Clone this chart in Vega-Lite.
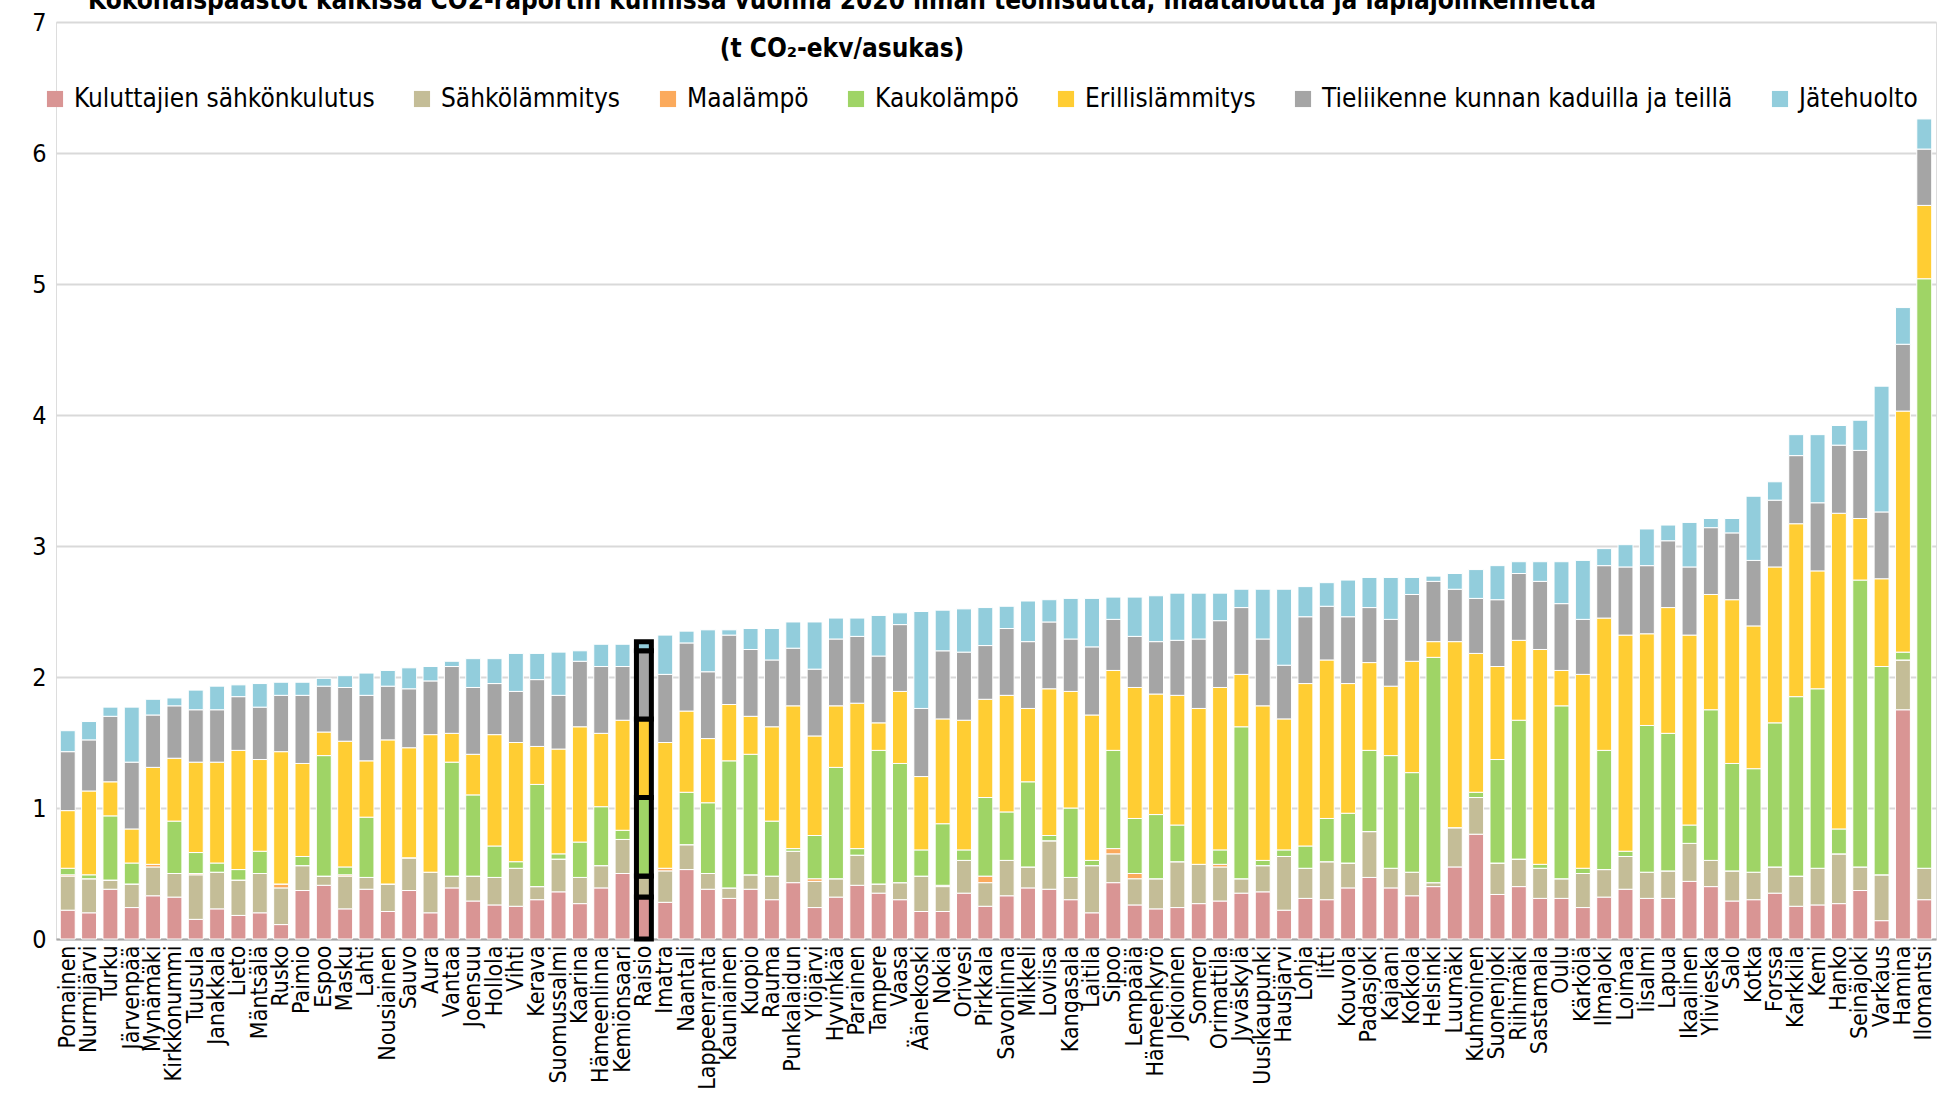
{
  "$schema": "https://vega.github.io/schema/vega-lite/v6.json",
  "width": 1880,
  "height": 917,
  "autosize": "none",
  "padding": {"left": 56, "top": 22, "right": 7, "bottom": 181},
  "background": "white",
  "title": {
    "text": "Kokonaispäästöt kaikissa CO2-raportin kunnissa vuonna 2020 ilman teollisuutta, maataloutta ja läpiajoliikennettä",
    "subtitle": "(t CO₂-ekv/asukas)",
    "font": "DejaVu Sans Condensed",
    "subtitleFont": "DejaVu Sans Condensed",
    "fontSize": 26,
    "subtitleFontSize": 26,
    "fontWeight": "bold",
    "subtitleFontWeight": "bold",
    "color": "black",
    "subtitleColor": "black",
    "anchor": "middle",
    "dx": -154,
    "offset": -52,
    "subtitlePadding": 22
  },
  "data": {"values": [
    {"kunta": "Pornainen", "K": 0.22, "S": 0.26, "M": 0.01, "Ka": 0.05, "E": 0.44, "T": 0.45, "J": 0.16},
    {"kunta": "Nurmijärvi", "K": 0.20, "S": 0.26, "M": 0, "Ka": 0.03, "E": 0.64, "T": 0.39, "J": 0.14},
    {"kunta": "Turku", "K": 0.38, "S": 0.07, "M": 0, "Ka": 0.49, "E": 0.26, "T": 0.50, "J": 0.07},
    {"kunta": "Järvenpää", "K": 0.24, "S": 0.18, "M": 0, "Ka": 0.16, "E": 0.26, "T": 0.51, "J": 0.42},
    {"kunta": "Mynämäki", "K": 0.33, "S": 0.22, "M": 0.02, "Ka": 0, "E": 0.74, "T": 0.40, "J": 0.12},
    {"kunta": "Kirkkonummi", "K": 0.32, "S": 0.18, "M": 0, "Ka": 0.40, "E": 0.48, "T": 0.40, "J": 0.06},
    {"kunta": "Tuusula", "K": 0.15, "S": 0.34, "M": 0.01, "Ka": 0.16, "E": 0.69, "T": 0.40, "J": 0.15},
    {"kunta": "Janakkala", "K": 0.23, "S": 0.28, "M": 0, "Ka": 0.07, "E": 0.77, "T": 0.40, "J": 0.18},
    {"kunta": "Lieto", "K": 0.18, "S": 0.27, "M": 0, "Ka": 0.08, "E": 0.91, "T": 0.41, "J": 0.09},
    {"kunta": "Mäntsälä", "K": 0.20, "S": 0.30, "M": 0, "Ka": 0.17, "E": 0.70, "T": 0.40, "J": 0.18},
    {"kunta": "Rusko", "K": 0.11, "S": 0.28, "M": 0.03, "Ka": 0, "E": 1.01, "T": 0.43, "J": 0.10},
    {"kunta": "Paimio", "K": 0.37, "S": 0.19, "M": 0, "Ka": 0.07, "E": 0.71, "T": 0.52, "J": 0.10},
    {"kunta": "Espoo", "K": 0.41, "S": 0.07, "M": 0, "Ka": 0.92, "E": 0.18, "T": 0.35, "J": 0.06},
    {"kunta": "Masku", "K": 0.23, "S": 0.25, "M": 0.01, "Ka": 0.06, "E": 0.96, "T": 0.41, "J": 0.09},
    {"kunta": "Lahti", "K": 0.38, "S": 0.09, "M": 0, "Ka": 0.46, "E": 0.43, "T": 0.50, "J": 0.17},
    {"kunta": "Nousiainen", "K": 0.21, "S": 0.21, "M": 0, "Ka": 0, "E": 1.10, "T": 0.41, "J": 0.12},
    {"kunta": "Sauvo", "K": 0.37, "S": 0.25, "M": 0, "Ka": 0, "E": 0.84, "T": 0.45, "J": 0.16},
    {"kunta": "Aura", "K": 0.20, "S": 0.31, "M": 0, "Ka": 0, "E": 1.05, "T": 0.41, "J": 0.11},
    {"kunta": "Vantaa", "K": 0.39, "S": 0.09, "M": 0, "Ka": 0.87, "E": 0.22, "T": 0.51, "J": 0.04},
    {"kunta": "Joensuu", "K": 0.29, "S": 0.19, "M": 0, "Ka": 0.62, "E": 0.31, "T": 0.51, "J": 0.22},
    {"kunta": "Hollola", "K": 0.26, "S": 0.21, "M": 0, "Ka": 0.24, "E": 0.85, "T": 0.39, "J": 0.19},
    {"kunta": "Vihti", "K": 0.25, "S": 0.29, "M": 0, "Ka": 0.05, "E": 0.91, "T": 0.39, "J": 0.29},
    {"kunta": "Kerava", "K": 0.30, "S": 0.10, "M": 0, "Ka": 0.78, "E": 0.29, "T": 0.51, "J": 0.20},
    {"kunta": "Suomussalmi", "K": 0.36, "S": 0.25, "M": 0, "Ka": 0.04, "E": 0.80, "T": 0.41, "J": 0.33},
    {"kunta": "Kaarina", "K": 0.27, "S": 0.20, "M": 0, "Ka": 0.27, "E": 0.88, "T": 0.50, "J": 0.08},
    {"kunta": "Hämeenlinna", "K": 0.39, "S": 0.17, "M": 0, "Ka": 0.45, "E": 0.56, "T": 0.51, "J": 0.17},
    {"kunta": "Kemiönsaari", "K": 0.50, "S": 0.26, "M": 0, "Ka": 0.07, "E": 0.84, "T": 0.41, "J": 0.17},
    {"kunta": "Raisio", "K": 0.32, "S": 0.16, "M": 0, "Ka": 0.60, "E": 0.60, "T": 0.52, "J": 0.07},
    {"kunta": "Imatra", "K": 0.28, "S": 0.24, "M": 0.02, "Ka": 0, "E": 0.96, "T": 0.52, "J": 0.30},
    {"kunta": "Naantali", "K": 0.53, "S": 0.19, "M": 0, "Ka": 0.40, "E": 0.62, "T": 0.52, "J": 0.09},
    {"kunta": "Lappeenranta", "K": 0.38, "S": 0.12, "M": 0, "Ka": 0.54, "E": 0.49, "T": 0.51, "J": 0.32},
    {"kunta": "Kauniainen", "K": 0.31, "S": 0.08, "M": 0, "Ka": 0.97, "E": 0.43, "T": 0.53, "J": 0.04},
    {"kunta": "Kuopio", "K": 0.38, "S": 0.11, "M": 0, "Ka": 0.92, "E": 0.29, "T": 0.51, "J": 0.16},
    {"kunta": "Rauma", "K": 0.30, "S": 0.18, "M": 0, "Ka": 0.42, "E": 0.72, "T": 0.51, "J": 0.24},
    {"kunta": "Punkalaidun", "K": 0.43, "S": 0.24, "M": 0, "Ka": 0.02, "E": 1.09, "T": 0.44, "J": 0.20},
    {"kunta": "Ylöjärvi", "K": 0.24, "S": 0.20, "M": 0.02, "Ka": 0.33, "E": 0.76, "T": 0.51, "J": 0.36},
    {"kunta": "Hyvinkää", "K": 0.32, "S": 0.14, "M": 0, "Ka": 0.85, "E": 0.47, "T": 0.51, "J": 0.16},
    {"kunta": "Parainen", "K": 0.41, "S": 0.23, "M": 0, "Ka": 0.05, "E": 1.11, "T": 0.51, "J": 0.14},
    {"kunta": "Tampere", "K": 0.35, "S": 0.07, "M": 0, "Ka": 1.02, "E": 0.21, "T": 0.51, "J": 0.31},
    {"kunta": "Vaasa", "K": 0.30, "S": 0.13, "M": 0, "Ka": 0.91, "E": 0.55, "T": 0.51, "J": 0.09},
    {"kunta": "Äänekoski", "K": 0.21, "S": 0.27, "M": 0, "Ka": 0.20, "E": 0.56, "T": 0.52, "J": 0.74},
    {"kunta": "Nokia", "K": 0.21, "S": 0.19, "M": 0.01, "Ka": 0.47, "E": 0.80, "T": 0.52, "J": 0.31},
    {"kunta": "Orivesi", "K": 0.35, "S": 0.25, "M": 0, "Ka": 0.08, "E": 0.99, "T": 0.52, "J": 0.33},
    {"kunta": "Pirkkala", "K": 0.25, "S": 0.18, "M": 0.05, "Ka": 0.60, "E": 0.75, "T": 0.41, "J": 0.29},
    {"kunta": "Savonlinna", "K": 0.33, "S": 0.27, "M": 0, "Ka": 0.37, "E": 0.89, "T": 0.51, "J": 0.17},
    {"kunta": "Mikkeli", "K": 0.39, "S": 0.16, "M": 0, "Ka": 0.65, "E": 0.56, "T": 0.51, "J": 0.31},
    {"kunta": "Loviisa", "K": 0.38, "S": 0.37, "M": 0, "Ka": 0.04, "E": 1.12, "T": 0.51, "J": 0.17},
    {"kunta": "Kangasala", "K": 0.30, "S": 0.17, "M": 0, "Ka": 0.53, "E": 0.89, "T": 0.40, "J": 0.31},
    {"kunta": "Laitila", "K": 0.20, "S": 0.36, "M": 0, "Ka": 0.04, "E": 1.11, "T": 0.52, "J": 0.37},
    {"kunta": "Sipoo", "K": 0.43, "S": 0.22, "M": 0.04, "Ka": 0.75, "E": 0.61, "T": 0.39, "J": 0.17},
    {"kunta": "Lempäälä", "K": 0.26, "S": 0.20, "M": 0.04, "Ka": 0.42, "E": 1.00, "T": 0.39, "J": 0.30},
    {"kunta": "Hämeenkyrö", "K": 0.23, "S": 0.23, "M": 0, "Ka": 0.49, "E": 0.92, "T": 0.40, "J": 0.35},
    {"kunta": "Jokioinen", "K": 0.24, "S": 0.35, "M": 0, "Ka": 0.28, "E": 0.99, "T": 0.42, "J": 0.36},
    {"kunta": "Somero", "K": 0.27, "S": 0.30, "M": 0, "Ka": 0, "E": 1.19, "T": 0.53, "J": 0.35},
    {"kunta": "Orimattila", "K": 0.29, "S": 0.26, "M": 0.02, "Ka": 0.11, "E": 1.24, "T": 0.51, "J": 0.21},
    {"kunta": "Jyväskylä", "K": 0.35, "S": 0.11, "M": 0, "Ka": 1.16, "E": 0.40, "T": 0.51, "J": 0.14},
    {"kunta": "Uusikaupunki", "K": 0.36, "S": 0.20, "M": 0, "Ka": 0.04, "E": 1.18, "T": 0.51, "J": 0.38},
    {"kunta": "Hausjärvi", "K": 0.22, "S": 0.41, "M": 0, "Ka": 0.05, "E": 1.00, "T": 0.41, "J": 0.58},
    {"kunta": "Lohja", "K": 0.31, "S": 0.23, "M": 0, "Ka": 0.17, "E": 1.24, "T": 0.51, "J": 0.23},
    {"kunta": "Iitti", "K": 0.30, "S": 0.29, "M": 0, "Ka": 0.33, "E": 1.21, "T": 0.41, "J": 0.18},
    {"kunta": "Kouvola", "K": 0.39, "S": 0.19, "M": 0, "Ka": 0.38, "E": 0.99, "T": 0.51, "J": 0.28},
    {"kunta": "Padasjoki", "K": 0.47, "S": 0.35, "M": 0, "Ka": 0.62, "E": 0.67, "T": 0.42, "J": 0.23},
    {"kunta": "Kajaani", "K": 0.39, "S": 0.15, "M": 0, "Ka": 0.86, "E": 0.53, "T": 0.51, "J": 0.32},
    {"kunta": "Kokkola", "K": 0.33, "S": 0.18, "M": 0, "Ka": 0.76, "E": 0.85, "T": 0.51, "J": 0.13},
    {"kunta": "Helsinki", "K": 0.40, "S": 0.03, "M": 0, "Ka": 1.72, "E": 0.12, "T": 0.46, "J": 0.04},
    {"kunta": "Luumäki", "K": 0.55, "S": 0.30, "M": 0, "Ka": 0, "E": 1.42, "T": 0.40, "J": 0.12},
    {"kunta": "Kuhmoinen", "K": 0.80, "S": 0.28, "M": 0, "Ka": 0.04, "E": 1.06, "T": 0.42, "J": 0.22},
    {"kunta": "Suonenjoki", "K": 0.34, "S": 0.24, "M": 0, "Ka": 0.79, "E": 0.71, "T": 0.51, "J": 0.26},
    {"kunta": "Riihimäki", "K": 0.40, "S": 0.21, "M": 0, "Ka": 1.06, "E": 0.61, "T": 0.51, "J": 0.09},
    {"kunta": "Sastamala", "K": 0.31, "S": 0.23, "M": 0, "Ka": 0.03, "E": 1.64, "T": 0.52, "J": 0.15},
    {"kunta": "Oulu", "K": 0.31, "S": 0.15, "M": 0, "Ka": 1.32, "E": 0.27, "T": 0.51, "J": 0.32},
    {"kunta": "Kärkölä", "K": 0.24, "S": 0.26, "M": 0, "Ka": 0.04, "E": 1.48, "T": 0.42, "J": 0.45},
    {"kunta": "Ilmajoki", "K": 0.32, "S": 0.21, "M": 0, "Ka": 0.91, "E": 1.01, "T": 0.40, "J": 0.13},
    {"kunta": "Loimaa", "K": 0.38, "S": 0.25, "M": 0, "Ka": 0.04, "E": 1.65, "T": 0.52, "J": 0.17},
    {"kunta": "Iisalmi", "K": 0.31, "S": 0.20, "M": 0, "Ka": 1.12, "E": 0.70, "T": 0.52, "J": 0.28},
    {"kunta": "Lapua", "K": 0.31, "S": 0.21, "M": 0, "Ka": 1.05, "E": 0.96, "T": 0.51, "J": 0.12},
    {"kunta": "Ikaalinen", "K": 0.44, "S": 0.29, "M": 0, "Ka": 0.14, "E": 1.45, "T": 0.52, "J": 0.34},
    {"kunta": "Ylivieska", "K": 0.40, "S": 0.20, "M": 0, "Ka": 1.15, "E": 0.88, "T": 0.51, "J": 0.07},
    {"kunta": "Salo", "K": 0.29, "S": 0.23, "M": 0, "Ka": 0.82, "E": 1.25, "T": 0.51, "J": 0.11},
    {"kunta": "Kotka", "K": 0.30, "S": 0.21, "M": 0, "Ka": 0.79, "E": 1.09, "T": 0.50, "J": 0.49},
    {"kunta": "Forssa", "K": 0.35, "S": 0.20, "M": 0, "Ka": 1.10, "E": 1.19, "T": 0.51, "J": 0.14},
    {"kunta": "Karkkila", "K": 0.25, "S": 0.23, "M": 0, "Ka": 1.37, "E": 1.32, "T": 0.52, "J": 0.16},
    {"kunta": "Kemi", "K": 0.26, "S": 0.28, "M": 0, "Ka": 1.37, "E": 0.90, "T": 0.52, "J": 0.52},
    {"kunta": "Hanko", "K": 0.27, "S": 0.38, "M": 0, "Ka": 0.19, "E": 2.41, "T": 0.52, "J": 0.15},
    {"kunta": "Seinäjoki", "K": 0.37, "S": 0.18, "M": 0, "Ka": 2.19, "E": 0.47, "T": 0.52, "J": 0.23},
    {"kunta": "Varkaus", "K": 0.14, "S": 0.35, "M": 0, "Ka": 1.59, "E": 0.67, "T": 0.51, "J": 0.96},
    {"kunta": "Hamina", "K": 1.75, "S": 0.38, "M": 0, "Ka": 0.06, "E": 1.84, "T": 0.51, "J": 0.28},
    {"kunta": "Ilomantsi", "K": 0.30, "S": 0.24, "M": 0, "Ka": 4.50, "E": 0.56, "T": 0.43, "J": 0.23}
  ]},
  "transform": [
    {"fold": ["K", "S", "M", "Ka", "E", "T", "J"], "as": ["lahde", "arvo"]},
    {"calculate": "indexof(['K', 'S', 'M', 'Ka', 'E', 'T', 'J'], datum.lahde)", "as": "jarjestys"}
  ],
  "mark": {"type": "bar", "stroke": "white", "strokeWidth": 1},
  "encoding": {
    "x": {
      "field": "kunta", "type": "nominal", "sort": null, "title": null,
      "scale": {"paddingInner": 0.3, "paddingOuter": 0.2},
      "axis": {"labelAngle": -90, "labelFontSize": 23, "labelFont": "DejaVu Sans Condensed", "labelColor": "black", "ticks": false, "domainColor": "#a6a6a6", "domainWidth": 2, "labelPadding": 6}
    },
    "y": {
      "field": "arvo", "type": "quantitative", "title": null, "stack": "zero",
      "scale": {"domain": [0, 7], "nice": false},
      "axis": {"values": [0, 1, 2, 3, 4, 5, 6, 7], "labelFontSize": 25, "labelFont": "DejaVu Sans Condensed", "labelColor": "black", "ticks": false, "domain": false, "gridColor": "#d9d9d9", "gridWidth": 2, "labelPadding": 10}
    },
    "color": {
      "field": "lahde", "type": "nominal",
      "scale": {"domain": ["K", "S", "M", "Ka", "E", "T", "J"], "range": ["#d99594", "#c4bd97", "#fbaa5c", "#9fd466", "#ffcd33", "#a5a5a5", "#92cddc"]},
      "legend": {
        "title": null, "orient": "none", "legendX": -14, "legendY": 64, "direction": "horizontal", "columns": 7,
        "symbolType": "square", "symbolSize": 260, "symbolStrokeWidth": 0, "labelFontSize": 26, "labelFont": "DejaVu Sans Condensed", "labelColor": "black", "columnPadding": 34, "labelOffset": 6, "labelLimit": 0,
        "labelExpr": "{'K': 'Kuluttajien sähkönkulutus', 'S': 'Sähkölämmitys', 'M': 'Maalämpö', 'Ka': 'Kaukolämpö', 'E': 'Erillislämmitys', 'T': 'Tieliikenne kunnan kaduilla ja teillä', 'J': 'Jätehuolto'}[datum.value]"
      }
    },
    "order": {"field": "jarjestys", "type": "quantitative", "sort": "ascending"},
    "stroke": {"condition": {"test": "datum.kunta === 'Raisio'", "value": "black"}, "value": "white"},
    "strokeWidth": {"condition": {"test": "datum.kunta === 'Raisio'", "value": 5}, "value": 1}
  }
}
